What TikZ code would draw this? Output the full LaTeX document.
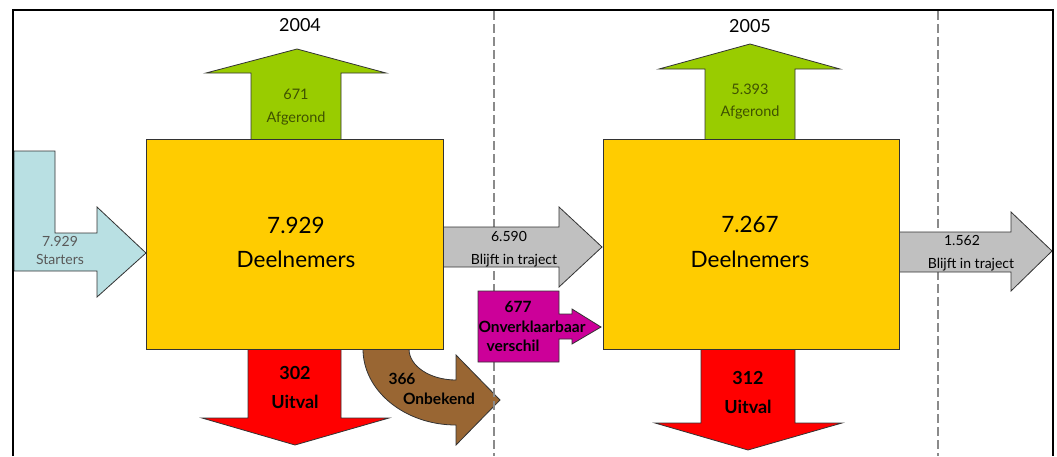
\documentclass[tikz,border=0pt]{standalone}
\usepackage{fontspec}
\setmainfont{Lato}
\definecolor{boxyellow}{HTML}{FFCC00}
\definecolor{leafgreen}{HTML}{99CC00}
\definecolor{startblue}{HTML}{B9E0E3}
\definecolor{flowgray}{HTML}{C0C0C0}
\definecolor{magbox}{HTML}{CC0099}
\definecolor{redarrow}{HTML}{FF0000}
\definecolor{brownarrow}{HTML}{996633}
\definecolor{olivetext}{HTML}{3F5200}
\definecolor{dashgray}{HTML}{8A8A8A}
\begin{document}
\begin{tikzpicture}[x=1pt,y=-1pt,
  outline/.style={draw=black!80, line width=0.8pt, line join=miter},
  lbl/.style={inner sep=0pt, anchor=base},
  yeartxt/.style={lbl, font=\fontsize{18}{18}\selectfont},
  bigtxt/.style={lbl, font=\fontsize{22.5}{22.5}\selectfont},
  greentxt/.style={lbl, text=olivetext, font=\fontsize{14.5}{14.5}\selectfont},
  starttxt/.style={lbl, text=black!65, font=\fontsize{14}{14}\selectfont},
  graytxt/.style={lbl, font=\fontsize{14}{14}\selectfont},
  redtxt/.style={lbl, font=\bfseries\fontsize{18}{18}\selectfont},
  boldtxt/.style={lbl, font=\bfseries\fontsize{15.5}{15.5}\selectfont},
  divider/.style={draw=dashgray, line width=1.6pt, dash pattern=on 9pt off 4pt}
]
\useasboundingbox (0,0) rectangle (1057,456);

% brown curved arrow (behind dividers)
\draw[outline, fill=brownarrow] (363,349) .. controls (363,391) and (405,425) .. (456,425)
  -- (456,445) -- (500,400) -- (456,355) -- (456,380)
  .. controls (430,380) and (409,366) .. (409,349) -- cycle;

% dividers
\coordinate (d1top) at (494,11);
\coordinate (d1bot) at (494,456);
\coordinate (d2top) at (938,11);
\coordinate (d2bot) at (938,456);
\draw[divider] (d1top) -- (d1bot);
\draw[divider] (d2top) -- (d2bot);

% starters arrow
\draw[outline, fill=startblue] (14,151) -- (55,151) -- (55,233) -- (97,233) -- (97,207)
  -- (146,253) -- (97,297) -- (97,271) -- (14,271) -- cycle;

% green arrows
\draw[outline, fill=leafgreen] (251,139) -- (251,73) -- (206,73) -- (297,49) -- (386,73)
  -- (341,73) -- (341,139);
\draw[outline, fill=leafgreen] (705,139) -- (705,69) -- (659,69) -- (750,44) -- (840,69)
  -- (795,69) -- (795,139);

% red arrows
\draw[outline, fill=redarrow] (248,349) -- (248,418) -- (202,418) -- (295,445) -- (389,418)
  -- (341,418) -- (341,349);
\draw[outline, fill=redarrow] (701,349) -- (701,423) -- (655,423) -- (748,450) -- (842,423)
  -- (795,423) -- (795,349);

% gray arrows
\draw[outline, fill=flowgray] (443,227) -- (559,227) -- (559,207) -- (602,247) -- (559,287)
  -- (559,267) -- (443,267);
\draw[outline, fill=flowgray] (899,232) -- (1011,232) -- (1011,212) -- (1052,251) -- (1011,291)
  -- (1011,272) -- (899,272);

% magenta callout
\draw[outline, fill=magbox] (478,291) -- (559,291) -- (559,314) -- (572,314) -- (572,309)
  -- (601,327) -- (572,344) -- (572,339) -- (559,339) -- (559,362) -- (478,362) -- cycle;

% main boxes
\node[outline, fill=boxyellow, minimum width=297pt, minimum height=210pt, inner sep=0pt,
  anchor=north west] (box04) at (146,139) {};
\node[outline, fill=boxyellow, minimum width=296pt, minimum height=210pt, inner sep=0pt,
  anchor=north west] (box05) at (603,139) {};

% frame
\draw[line width=2pt] (13,456) -- (13,10) -- (1053,10) -- (1053,456);

% texts
\node[yeartxt] (y04) at (300,31) {2004};
\node[yeartxt] (y05) at (750,32) {2005};

\node[greentxt] (a1n) at (296,99) {671};
\node[greentxt] (a1t) at (296,122) {Afgerond};
\node[greentxt] (a2n) at (750,94) {5.393};
\node[greentxt] (a2t) at (750,116) {Afgerond};

\node[bigtxt] (b1n) at (296,233) {7.929};
\node[bigtxt] (b1t) at (296,267) {Deelnemers};
\node[bigtxt] (b2n) at (750,232) {7.267};
\node[bigtxt] (b2t) at (750,267) {Deelnemers};

\node[starttxt] (sn) at (60,246) {7.929};
\node[starttxt] (st) at (60,264) {Starters};

\node[graytxt] (g1n) at (509,241) {6.590};
\node[graytxt] (g1t) at (514,264) {Blijft in traject};
\node[graytxt] (g2n) at (962,245) {1.562};
\node[graytxt] (g2t) at (971,268) {Blijft in traject};

\node[redtxt] (r1n) at (295,379) {302};
\node[redtxt] (r1t) at (295,408) {Uitval};
\node[redtxt] (r2n) at (748,384) {312};
\node[redtxt] (r2t) at (748,413) {Uitval};

\node[boldtxt] (brn) at (402,384) {366};
\node[boldtxt] (brt) at (439,404) {Onbekend};

\node[boldtxt] (mn) at (518,312) {677};
\node[boldtxt] (mt) at (532,332) {Onverklaarbaar};
\node[boldtxt] (mv) at (513,351) {verschil};
\end{tikzpicture}
\end{document}
